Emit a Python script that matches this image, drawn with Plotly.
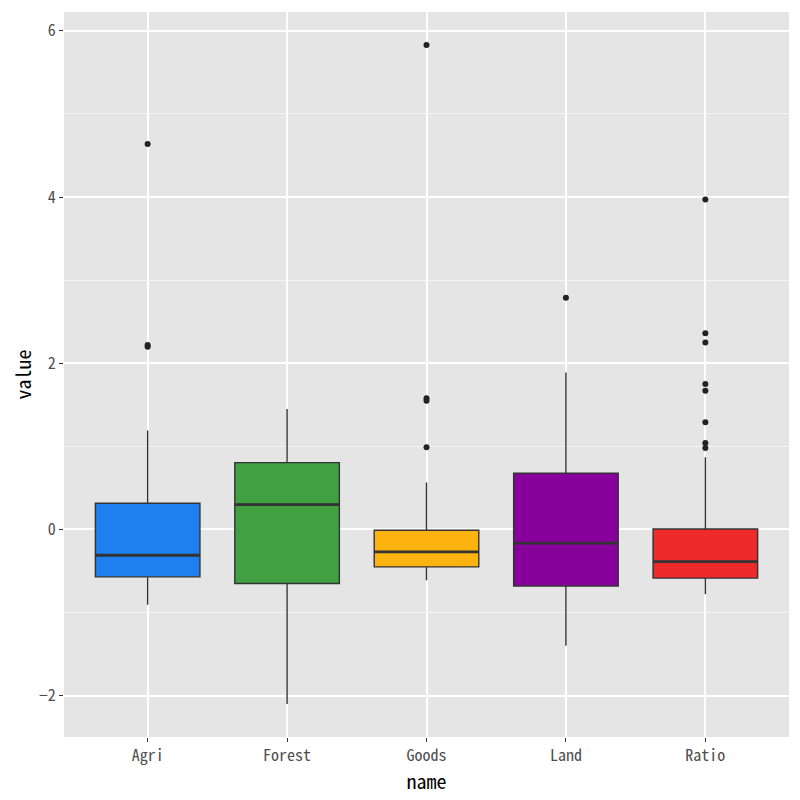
import plotly.graph_objects as go

# ── Data ─────────────────────────────────────────────────────────────────────

names = ["Agri", "Forest", "Goods", "Land", "Ratio"]
fills = ["#1f7fee", "#41a141", "#fdb30f", "#88009c", "#ee2a2a"]

q1 = [-0.57, -0.65, -0.45, -0.68, -0.585]
median = [-0.31, 0.30, -0.27, -0.163, -0.387]
q3 = [0.316, 0.805, -0.01, 0.677, 0.006]
lower = [-0.905, -2.10, -0.61, -1.40, -0.78]
upper = [1.19, 1.45, 0.565, 1.89, 0.87]

outliers = {
    "Agri": [4.64, 2.22, 2.20],
    "Forest": [],
    "Goods": [5.83, 1.58, 1.55, 0.99],
    "Land": [2.79],
    "Ratio": [3.97, 2.36, 2.25, 1.75, 1.67, 1.29, 1.04, 0.98],
}

# ── Theme (ggplot-ish grey) ──────────────────────────────────────────────────

FONT = "Noto Sans Mono CJK JP, DejaVu Sans Mono, monospace"
INK = "#333333"

fig = go.Figure()

for i, name in enumerate(names):
    fig.add_trace(go.Box(
        x=[name], q1=[q1[i]], median=[median[i]], q3=[q3[i]],
        lowerfence=[lower[i]], upperfence=[upper[i]],
        fillcolor=fills[i], line=dict(color=INK, width=1.4),
        whiskerwidth=0, width=0.75, boxpoints=False,
        showlegend=False, hoverinfo="skip",
    ))
    # thicker median bar, as ggplot draws it
    fig.add_trace(go.Box(
        x=[name], q1=[median[i]], median=[median[i]], q3=[median[i]],
        lowerfence=[median[i]], upperfence=[median[i]],
        fillcolor="rgba(0,0,0,0)", line=dict(color=INK, width=2.8),
        whiskerwidth=0, width=0.75, boxpoints=False,
        showlegend=False, hoverinfo="skip",
    ))

for name in names:
    pts = outliers[name]
    if pts:
        fig.add_trace(go.Scatter(
            x=[name] * len(pts), y=pts, mode="markers",
            marker=dict(color="#222222", size=6),
            showlegend=False, hoverinfo="skip",
        ))

# page body has an 8px margin, so the figure is 792 wide and the margins shifted
fig.update_layout(
    width=792, height=792,
    paper_bgcolor="white", plot_bgcolor="#e5e5e5",
    font=dict(family=FONT, color="#4d4d4d", size=16),
    margin=dict(l=56, r=11, t=4, b=63, autoexpand=False),
    boxmode="overlay",
    xaxis=dict(
        type="category", categoryorder="array", categoryarray=names,
        range=[-0.6, 4.6], showgrid=True, gridcolor="white", gridwidth=2,
        ticks="outside", ticklen=4, tickcolor=INK, tickwidth=1,
        zeroline=False, showline=False,
        title=dict(text="name", font=dict(size=20, color="black"), standoff=0),
    ),
    yaxis=dict(
        range=[-2.497, 6.227], tickvals=[-2, 0, 2, 4, 6],
        ticktext=["−2", "0", "2", "4", "6"],
        showgrid=True, gridcolor="white", gridwidth=2,
        minor=dict(tick0=-1, dtick=2, showgrid=True, gridcolor="#f4f4f4", gridwidth=1.3, ticks=""),
        ticks="outside", ticklen=4, tickcolor=INK, tickwidth=1,
        zeroline=False, showline=False,
        title=dict(text="value", font=dict(size=20, color="black"), standoff=11),
    ),
)

fig.write_html("out.html")
